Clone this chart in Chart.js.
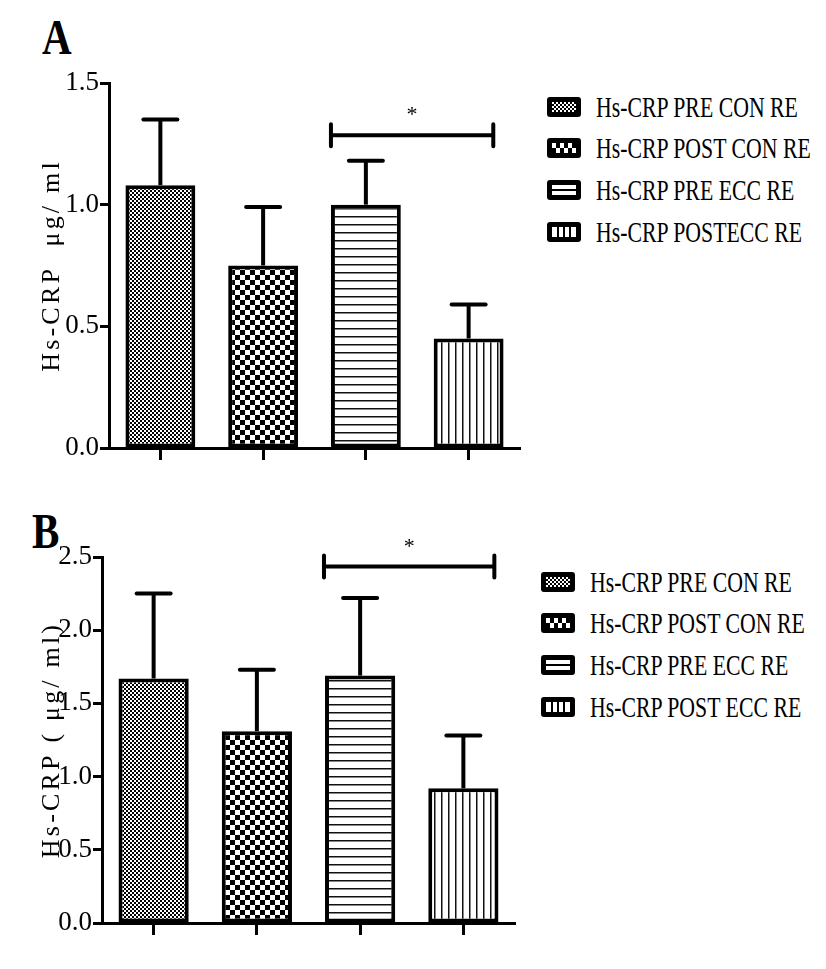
<!DOCTYPE html>
<html>
<head>
<meta charset="utf-8">
<script src="https://cdn.jsdelivr.net/npm/chart.js@4.4.1/dist/chart.umd.min.js"></script>
<style>
  body { margin: 0; background: #fff; }
  #page { position: relative; width: 826px; height: 969px; overflow: hidden; font-family: "Liberation Serif", serif; }
  canvas { position: absolute; left: 0; }
  .panel-letter {
    position: absolute; font-weight: bold; font-size: 50px; line-height: 50px; color: #000;
    transform: scaleX(0.82); transform-origin: left top;
  }
  .legend-row { position: absolute; height: 30px; }
  .legend-row canvas { position: absolute; left: 0; }
  .legend-row span {
    position: absolute; white-space: nowrap; font-size: 30px; line-height: 30px; color: #000;
    transform: scaleX(0.726); transform-origin: left center;
  }
</style>
</head>
<body>
<div id="page">
  <div class="panel-letter" style="left:42px; top:12px;">A</div>
  <div class="panel-letter" style="left:32px; top:506px;">B</div>
  <canvas id="chartA" width="540" height="480" style="top:0;"></canvas>
  <canvas id="chartB" width="540" height="489" style="top:480px;"></canvas>
  <div id="legendA"></div>
  <div id="legendB"></div>
</div>
<script>
// --- DATA ---
const groupsA = ['Hs-CRP PRE CON RE', 'Hs-CRP POST CON RE', 'Hs-CRP PRE ECC RE', 'Hs-CRP POSTECC RE'];
const groupsB = ['Hs-CRP PRE CON RE', 'Hs-CRP POST CON RE', 'Hs-CRP PRE ECC RE', 'Hs-CRP POST ECC RE'];

const meanA = [1.08, 0.75, 1.00, 0.45];
const sdA = [0.27, 0.24, 0.18, 0.14];
const meanB = [1.67, 1.31, 1.69, 0.92];
const sdB = [0.58, 0.42, 0.53, 0.36];

const ticksA = [0, 0.5, 1.0, 1.5];
const ticksB = [0, 0.5, 1.0, 1.5, 2.0, 2.5];

// significance bracket: category span and height
const sigPairA = [1.66, 3.24];
const sigLevelA = 1.285;
const sigPairB = [1.65, 3.30];
const sigLevelB = 2.435;

const titleA = 'Hs-CRP  \u03bcg/ ml';
const titleB = 'Hs-CRP ( \u03bcg/ ml)';

const fills = ['fine', 'check', 'hlines', 'vlines'];

// --- PATTERNS ---
function makePattern(kind) {
    const tile = document.createElement('canvas');
    const g = tile.getContext('2d');
    if (kind === 'fine') {
        tile.width = 4; tile.height = 4;
        g.fillStyle = '#fff'; g.fillRect(0, 0, 4, 4);
        g.fillStyle = '#000'; g.fillRect(0, 0, 2, 2); g.fillRect(2, 2, 2, 2);
    } else if (kind === 'check') {
        tile.width = 10; tile.height = 10;
        g.fillStyle = '#fff'; g.fillRect(0, 0, 10, 10);
        g.fillStyle = '#000'; g.fillRect(0, 0, 5, 5); g.fillRect(5, 5, 5, 5);
    } else if (kind === 'hlines') {
        tile.width = 8; tile.height = 8;
        g.fillStyle = '#fff'; g.fillRect(0, 0, 8, 8);
        g.fillStyle = '#111'; g.fillRect(0, 0, 8, 1.5);
    } else {
        tile.width = 7; tile.height = 7;
        g.fillStyle = '#fff'; g.fillRect(0, 0, 7, 7);
        g.fillStyle = '#111'; g.fillRect(0, 0, 1.5, 7);
    }
    return document.createElement('canvas').getContext('2d').createPattern(tile, 'repeat');
}

function drawSwatch(c, kind) {
    const g = c.getContext('2d');
    g.fillStyle = '#000';
    g.beginPath(); g.roundRect(0, 0, 34, 20, 3); g.fill();
    const x0 = 5, y0 = 5, w = 24, h = 10;
    if (kind === 'fine') {
        for (let i = 0; i < w; i += 2) for (let j = 0; j < h; j += 2) {
            g.fillStyle = ((i + j) / 2) % 2 === 0 ? '#fff' : '#000';
            g.fillRect(x0 + i, y0 + j, 2, 2);
        }
    } else if (kind === 'check') {
        for (let i = 0; i < 6; i++) for (let j = 0; j < 2; j++) {
            if ((i + j) % 2 === 0) { g.fillStyle = '#fff'; g.fillRect(x0 + i * 4, y0 + j * 5, 4, 5); }
        }
    } else if (kind === 'hlines') {
        g.fillStyle = '#fff'; g.fillRect(x0, y0, w, h);
        g.fillStyle = '#000'; g.fillRect(x0, y0 + 4, w, 2);
    } else {
        g.fillStyle = '#fff'; g.fillRect(x0, y0, w, h);
        g.fillStyle = '#000';
        [6, 12, 18].forEach(dx => g.fillRect(x0 + dx - 1, y0, 2, h));
    }
}

function buildLegend(el, labels, left, baselines) {
    labels.forEach((label, i) => {
        const row = document.createElement('div');
        row.className = 'legend-row';
        row.style.left = left + 'px';
        row.style.top = (baselines[i] - 25) + 'px';
        const sw = document.createElement('canvas');
        sw.width = 34; sw.height = 20;
        sw.style.top = '5px';
        drawSwatch(sw, fills[i]);
        const txt = document.createElement('span');
        txt.style.left = '49px';
        txt.textContent = label;
        row.appendChild(sw);
        row.appendChild(txt);
        el.appendChild(row);
    });
}

// error bars, significance bracket and axis title
const extras = {
    id: 'extras',
    afterDatasetsDraw(chart) {
        const { ctx, scales: { x, y } } = chart;
        const ds = chart.data.datasets[0];
        const meta = chart.getDatasetMeta(0);
        ctx.save();
        ctx.strokeStyle = '#000';
        ctx.lineWidth = 4;
        meta.data.forEach((bar, i) => {
            const top = y.getPixelForValue(ds.data[i] + ds.sd[i]);
            ctx.lineCap = 'butt';
            ctx.beginPath(); ctx.moveTo(bar.x, bar.y); ctx.lineTo(bar.x, top); ctx.stroke();
            ctx.lineCap = 'round';
            ctx.beginPath(); ctx.moveTo(bar.x - 17, top); ctx.lineTo(bar.x + 17, top); ctx.stroke();
        });
        const sig = chart.config.options.sig;
        const x1 = x.getPixelForValue(sig.pair[0]);
        const x2 = x.getPixelForValue(sig.pair[1]);
        const yy = y.getPixelForValue(sig.level);
        ctx.lineCap = 'butt';
        ctx.beginPath(); ctx.moveTo(x1, yy); ctx.lineTo(x2, yy); ctx.stroke();
        ctx.lineCap = 'round';
        ctx.beginPath();
        ctx.moveTo(x1, yy - 11); ctx.lineTo(x1, yy + 11);
        ctx.moveTo(x2, yy - 11); ctx.lineTo(x2, yy + 11);
        ctx.stroke();
        ctx.fillStyle = '#000';
        ctx.font = '22px Liberation Serif';
        ctx.textAlign = 'center';
        ctx.textBaseline = 'alphabetic';
        ctx.fillText('*', (x1 + x2) / 2, yy - 14);
        ctx.restore();
    },
    afterDraw(chart) {
        const { ctx, chartArea } = chart;
        ctx.save();
        ctx.fillStyle = '#000';
        ctx.font = '26px Liberation Serif';
        ctx.letterSpacing = '3.2px';
        ctx.textAlign = 'center';
        ctx.textBaseline = 'alphabetic';
        ctx.translate(59, (chartArea.top + chartArea.bottom) / 2);
        ctx.rotate(-Math.PI / 2);
        ctx.fillText(chart.config.options.yTitle, 0, 0);
        ctx.restore();
    }
};

function makeChart(id, labels, mean, sd, ticks, sigPair, sigLevel, yTitle, box) {
    const ctx = document.getElementById(id).getContext('2d');
    return new Chart(ctx, {
        type: 'bar',
        data: {
            labels: labels,
            datasets: [{
                data: mean,
                sd: sd,
                backgroundColor: fills.map(makePattern),
                borderColor: '#000',
                borderWidth: 4,
                borderSkipped: false,
                barPercentage: 0.68,
                categoryPercentage: 1
            }]
        },
        options: {
            responsive: false,
            animation: false,
            devicePixelRatio: 1,
            sig: { pair: sigPair, level: sigLevel },
            yTitle: yTitle,
            layout: { padding: { left: 0, top: box.top, right: box.right, bottom: 0 } },
            plugins: { legend: { display: false }, tooltip: { enabled: false } },
            scales: {
                x: {
                    offset: true,
                    afterFit: s => { s.height = box.xHeight; },
                    ticks: { display: false },
                    grid: { offset: false, drawOnChartArea: false, drawTicks: true, tickLength: 12, tickWidth: 3, tickColor: '#000' },
                    border: { display: true, color: '#000', width: 3 }
                },
                y: {
                    min: ticks[0],
                    max: ticks[ticks.length - 1],
                    afterFit: s => { s.width = box.left; },
                    ticks: {
                        stepSize: ticks[1] - ticks[0],
                        padding: 1,
                        color: '#000',
                        font: { family: 'Liberation Serif', size: 27 },
                        callback: v => Number(v).toFixed(1)
                    },
                    grid: { drawOnChartArea: false, drawTicks: true, tickLength: 9, tickWidth: 3, tickColor: '#000' },
                    border: { display: true, color: '#000', width: 3 }
                }
            }
        },
        plugins: [extras]
    });
}

makeChart('chartA', groupsA, meanA, sdA, ticksA, sigPairA, sigLevelA, titleA,
    { left: 109, top: 83, right: 20, xHeight: 32 });
makeChart('chartB', groupsB, meanB, sdB, ticksB, sigPairB, sigLevelB, titleB,
    { left: 102, top: 77, right: 25, xHeight: 46 });

buildLegend(document.getElementById('legendA'), groupsA, 547, [117, 158, 200, 242]);
buildLegend(document.getElementById('legendB'), groupsB, 541, [592, 633, 675, 717]);
</script>
</body>
</html>
